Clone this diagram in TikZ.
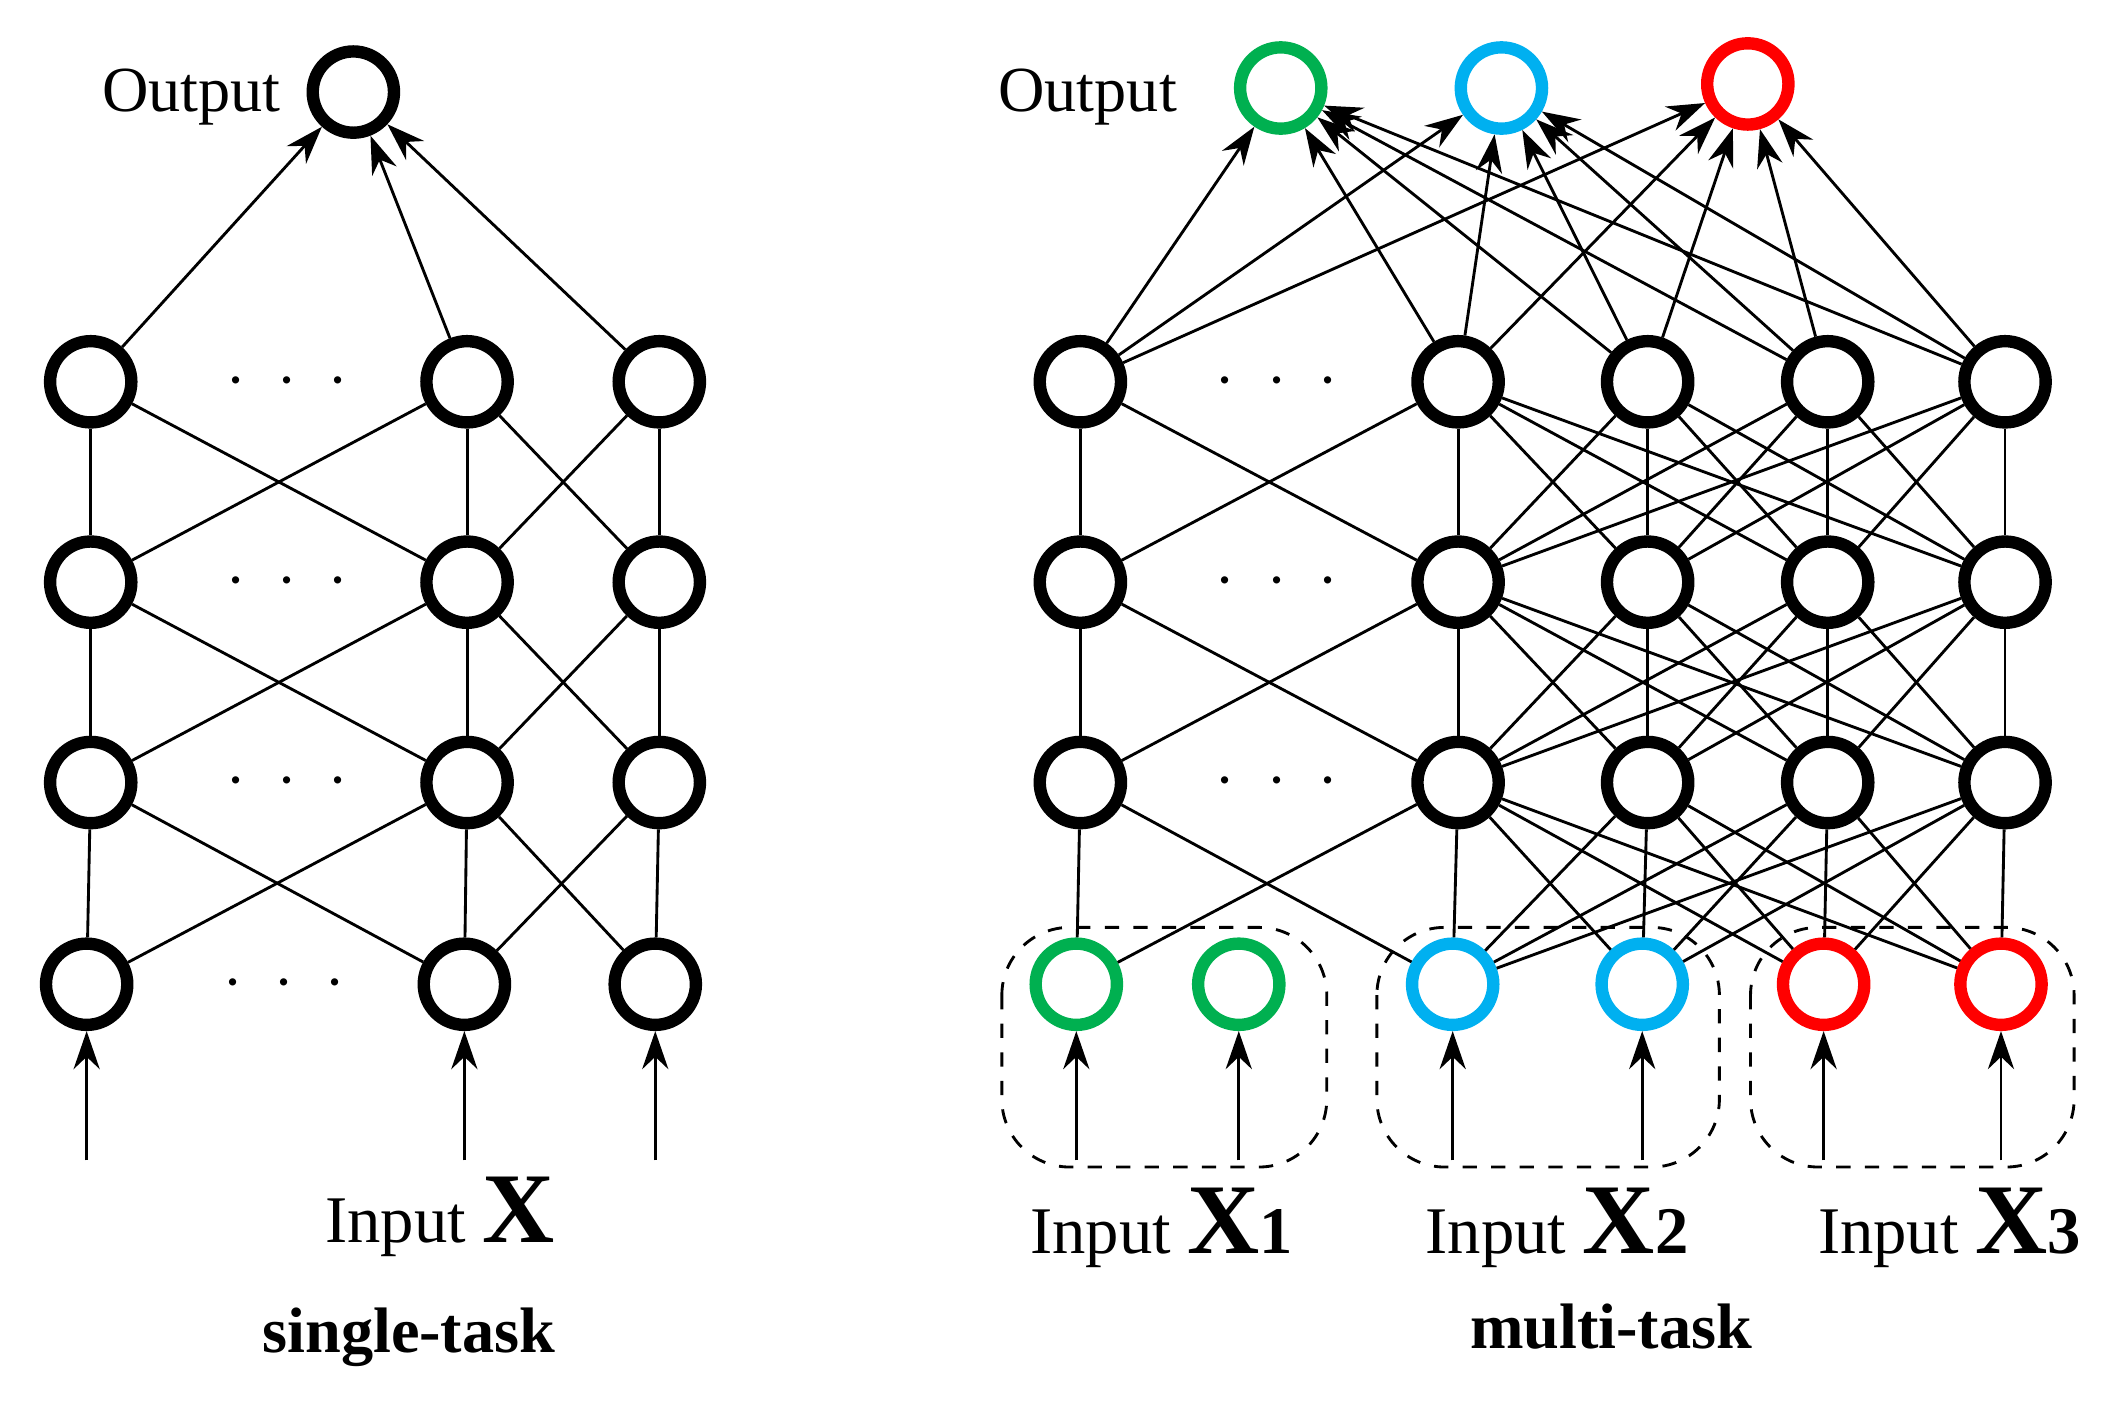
\documentclass[tikz,border=0pt]{standalone}
\usepackage{fontspec}
\setmainfont{Liberation Serif}
\usetikzlibrary{arrows.meta}
\definecolor{cg}{RGB}{0,176,80}
\definecolor{cb}{RGB}{0,176,240}
\definecolor{cr}{RGB}{255,0,0}
\begin{document}
\begin{tikzpicture}[x=0.01cm,y=-0.01cm,
 neu/.style={circle,draw=black,line width=2.6pt,minimum size=0.6cm,inner sep=0},
 ln/.style={line width=0.6pt},
 ar/.style={line width=0.6pt,-{Stealth[length=8pt,width=5.5pt]}},
 lbl/.style={font=\fontsize{13.5}{13.5}\selectfont,inner sep=0},
 dd/.style={font=\fontsize{15}{15}\selectfont},
 grp/.style={draw,dashed,line width=0.6pt,rounded corners=0.5cm}]
\useasboundingbox (0,0) rectangle (1560,1054);
\def\dots{$\cdot$\hspace{0.45em}$\cdot$\hspace{0.45em}$\cdot$}
% ---------- single-task
\foreach \r/\y in {1/282,2/430,3/578}{
 \node[neu] (a\r1) at (67,\y) {};
 \node[neu] (a\r2) at (345,\y) {};
 \node[neu] (a\r3) at (487,\y) {};
 \node[dd] at (212,\y) {\dots};}
\node[neu] (a41) at (64,727) {};
\node[neu] (a42) at (343,727) {};
\node[neu] (a43) at (484,727) {};
\node[dd] at (210,727) {\dots};
\node[neu] (ao) at (261,68) {};
\foreach \r/\s in {1/2,2/3,3/4}{
 \draw[ln] (a\r1)--(a\s1); \draw[ln] (a\r2)--(a\s2); \draw[ln] (a\r3)--(a\s3);
 \draw[ln] (a\r1)--(a\s2); \draw[ln] (a\r2)--(a\s1);
 \draw[ln] (a\r2)--(a\s3); \draw[ln] (a\r3)--(a\s2);}
\foreach \c in {1,2,3} \draw[ar] (a1\c)--(ao);
\coordinate (i1) at (64,857); \coordinate (i2) at (343,857); \coordinate (i3) at (484,857);
\foreach \c in {1,2,3} \draw[ar] (i\c)--(a4\c);
\node[lbl,anchor=east] (ol) at (208,72) {Output};
\node[anchor=base] (il) at (325,918) {\fontsize{14}{14}\selectfont Input \textbf{\fontsize{21}{21}\selectfont X}};
\node[font=\fontsize{13.5}{13.5}\selectfont\bfseries] (st) at (302,988) {single-task};
% ---------- multi-task
\foreach \r/\y in {1/282,2/430,3/578}{
 \foreach \c/\x in {1/798,2/1077,3/1217,4/1350,5/1481}
  \node[neu] (b\r\c) at (\x,\y) {};
 \node[dd] at (943,\y) {\dots};}
\node[neu,draw=cg] (b41) at (795,727) {};
\node[neu,draw=cg] (b4g) at (915,727) {};
\node[neu,draw=cb] (b42) at (1073,727) {};
\node[neu,draw=cb] (b43) at (1213,727) {};
\node[neu,draw=cr] (b44) at (1347,727) {};
\node[neu,draw=cr] (b45) at (1478,727) {};
\node[neu,draw=cg] (og) at (946,65) {};
\node[neu,draw=cb] (ob) at (1109,65) {};
\node[neu,draw=cr] (or) at (1291,62) {};
\foreach \r/\s in {1/2,2/3,3/4}{
 \draw[ln] (b\r1)--(b\s1); \draw[ln] (b\r1)--(b\s2); \draw[ln] (b\r2)--(b\s1);
 \foreach \c in {2,3,4,5}\foreach \d in {2,3,4,5} \draw[ln] (b\r\c)--(b\s\d);}
\foreach \c in {1,2,3,4,5}\foreach \o in {og,ob,or} \draw[ar] (b1\c)--(\o);
\foreach \c/\x in {1/795,g/915,2/1073,3/1213,4/1347,5/1478}{
 \coordinate (j\c) at (\x,857); \draw[ar] (j\c)--(b4\c);}
\draw[grp] (740,685) rectangle (980,862);
\draw[grp] (1017,685) rectangle (1270,862);
\draw[grp] (1293,685) rectangle (1532,862);
\node[lbl,anchor=east] (ol2) at (870,72) {Output};
\node[anchor=base] (x1) at (858,926) {\fontsize{14}{14}\selectfont Input \textbf{\fontsize{21}{21}\selectfont X\fontsize{14}{14}\selectfont 1}};
\node[anchor=base] (x2) at (1150,926) {\fontsize{14}{14}\selectfont Input \textbf{\fontsize{21}{21}\selectfont X\fontsize{14}{14}\selectfont 2}};
\node[anchor=base] (x3) at (1440,926) {\fontsize{14}{14}\selectfont Input \textbf{\fontsize{21}{21}\selectfont X\fontsize{14}{14}\selectfont 3}};
\node[font=\fontsize{13.5}{13.5}\selectfont\bfseries] (mt) at (1190,980) {multi-task};
\end{tikzpicture}
\end{document}
